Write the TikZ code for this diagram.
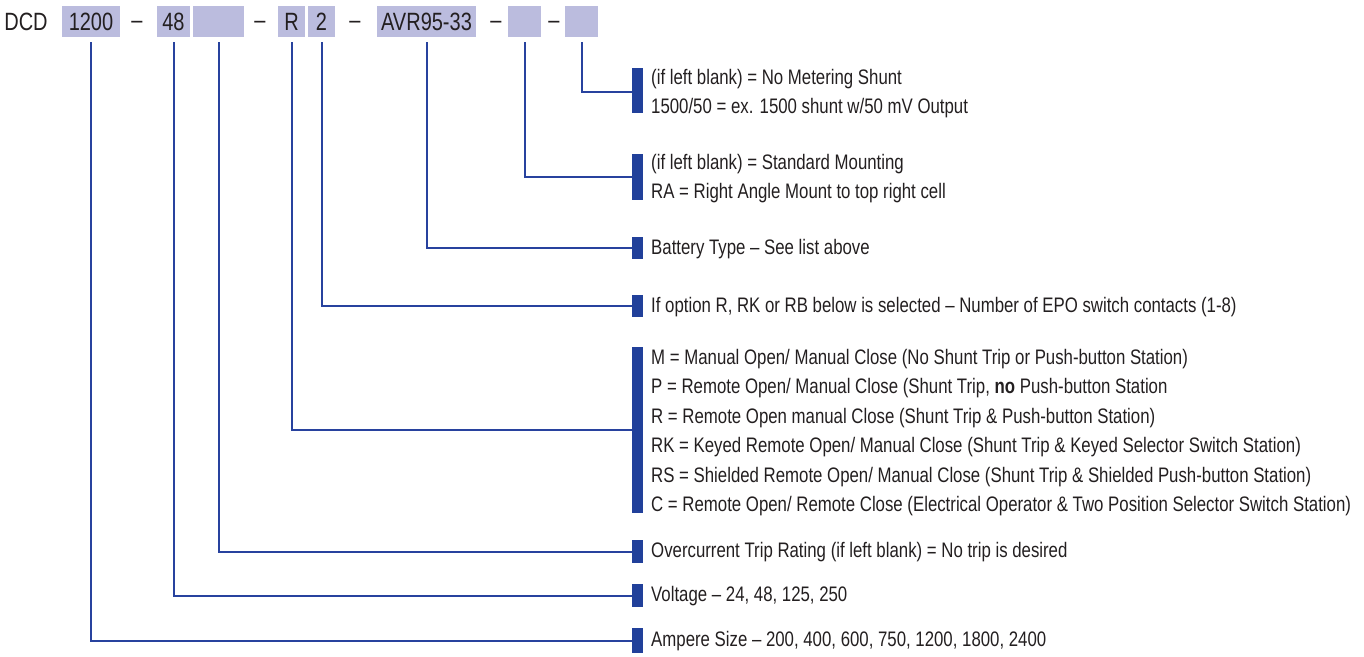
\documentclass[tikz,border=0pt]{standalone}
\usepackage{fontspec}
\setmainfont[FakeStretch=0.80]{Liberation Sans}
\definecolor{linkblue}{RGB}{40,66,158}
\definecolor{barblue}{RGB}{33,64,154}
\definecolor{boxfill}{RGB}{187,188,222}
\definecolor{ink}{RGB}{35,31,32}
\begin{document}
\begin{tikzpicture}[x=1pt,y=-1pt,
  code/.style={fill=boxfill, inner sep=0pt, minimum height=31pt, text=ink, font=\fontsize{25}{25}\selectfont},
  plain/.style={inner sep=0pt, text=ink, font=\fontsize{25}{25}\selectfont},
  bar/.style={fill=barblue, inner sep=0pt, minimum width=11pt},
  desc/.style={anchor=west, inner sep=0pt, text=ink, align=left, font=\fontsize{21}{29.5}\selectfont},
  conn/.style={draw=linkblue, line width=2pt}
]
\useasboundingbox (0,0) rectangle (1364,656);
% header
\node[plain] (dcd) at (26,22) {DCD};
\node[code, minimum width=58pt] (b1) at (91,21.5) {1200};
\node[plain] (d1) at (137,24.5) {–};
\node[code, minimum width=33pt] (b2) at (173.5,21.5) {48};
\node[code, minimum width=51pt] (b3) at (218.5,21.5) {};
\node[plain] (d2) at (260,24.5) {–};
\node[code, minimum width=27pt] (b4) at (291.5,21.5) {R};
\node[code, minimum width=27pt] (b5) at (321.5,21.5) {2};
\node[plain] (d3) at (355,24.5) {–};
\node[code, minimum width=99pt] (b6) at (426.5,21.5) {AVR95-33};
\node[plain] (d4) at (496,24.5) {–};
\node[code, minimum width=33pt] (b7) at (524.5,21.5) {};
\node[plain] (d5) at (554,24.5) {–};
\node[code, minimum width=33pt] (b8) at (581.5,21.5) {};
% bars
\node[bar, minimum height=45pt] (l8) at (637.5,90.5) {};
\node[bar, minimum height=46pt] (l7) at (637.5,177) {};
\node[bar, minimum height=22pt] (l6) at (637.5,248) {};
\node[bar, minimum height=22pt] (l5) at (637.5,306) {};
\node[bar, minimum height=166pt] (l4) at (637.5,430) {};
\node[bar, minimum height=23pt] (l3) at (637.5,551.5) {};
\node[bar, minimum height=23pt] (l2) at (637.5,595.5) {};
\node[bar, minimum height=25pt] (l1) at (637.5,640.5) {};
% descriptions
\node[desc] (t8) at (651,93.5) {(if left blank) = No Metering Shunt\\1500/50 = ex. 1500 shunt w/50 mV Output};
\node[desc] (t7) at (651,178.5) {(if left blank) = Standard Mounting\\RA = Right Angle Mount to top right cell};
\node[desc] (t6) at (651,249) {Battery Type – See list above};
\node[desc] (t5) at (651,307) {If option R, RK or RB below is selected – Number of EPO switch contacts (1-8)};
\node[desc] (t4) at (651,432.5) {M = Manual Open/ Manual Close (No Shunt Trip or Push-button Station)\\
P = Remote Open/ Manual Close (Shunt Trip, \textbf{no} Push-button Station\\
R = Remote Open manual Close (Shunt Trip \& Push-button Station)\\
RK = Keyed Remote Open/ Manual Close (Shunt Trip \& Keyed Selector Switch Station)\\
RS = Shielded Remote Open/ Manual Close (Shunt Trip \& Shielded Push-button Station)\\
C = Remote Open/ Remote Close (Electrical Operator \& Two Position Selector Switch Station)};
\node[desc] (t3) at (651,552.5) {Overcurrent Trip Rating (if left blank) = No trip is desired};
\node[desc] (t2) at (651,596.5) {Voltage – 24, 48, 125, 250};
\node[desc] (t1) at (651,641.5) {Ampere Size – 200, 400, 600, 750, 1200, 1800, 2400};
% connectors
\draw[conn] ([yshift=-5pt]b1.south) |- (l1.west);
\draw[conn] ([yshift=-5pt]b2.south) |- (l2.west);
\draw[conn] ([yshift=-5pt]b3.south) |- (l3.west);
\draw[conn] ([yshift=-5pt]b4.south) |- (l4.west);
\draw[conn] ([yshift=-5pt]b5.south) |- (l5.west);
\draw[conn] ([yshift=-5pt]b6.south) |- (l6.west);
\draw[conn] ([yshift=-5pt]b7.south) |- (l7.west);
\draw[conn] ([yshift=-5pt]b8.south) |- ([yshift=-1.5pt]l8.west);
\end{tikzpicture}
\end{document}
